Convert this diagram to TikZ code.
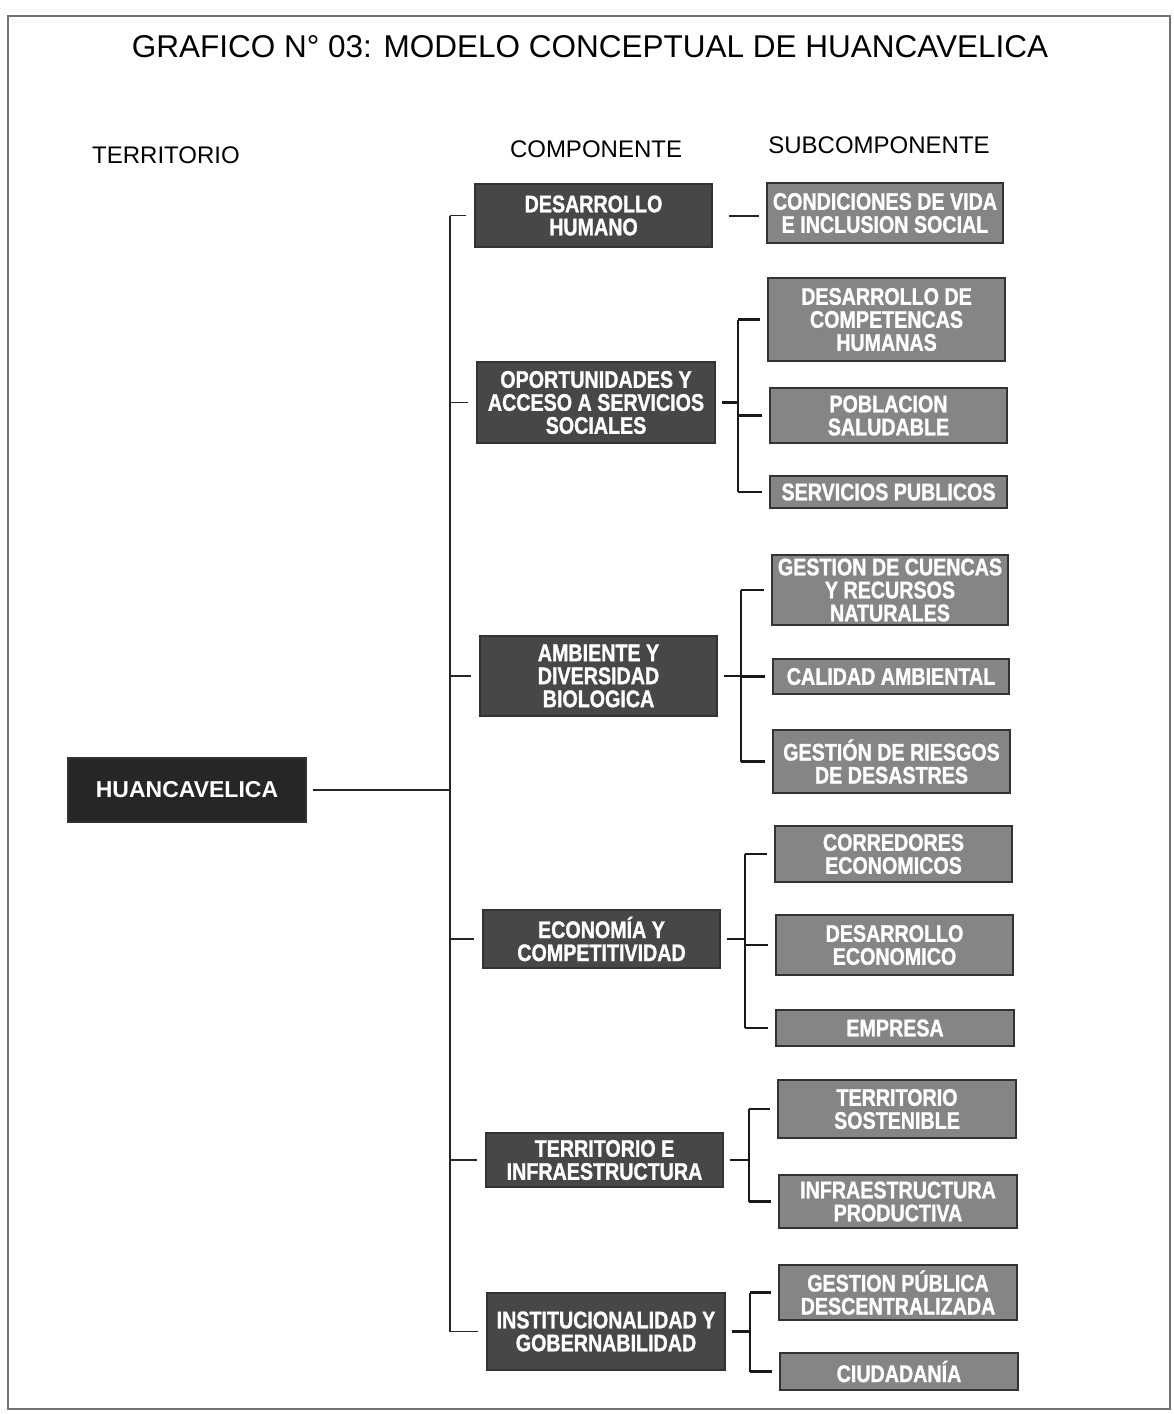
\documentclass[tikz,border=0pt]{standalone}
\usepackage{fontspec}
\setmainfont{Liberation Sans}
\newfontfamily\boxfont[FakeStretch=0.82,FakeBold=1.2]{Liberation Sans Bold}
\newfontfamily\rootfont{Liberation Sans Bold}
\begin{document}
\begin{tikzpicture}[x=1pt,y=-1pt,
  basebox/.style={draw=black!80,line width=1.2pt,text=white,align=center,inner sep=0pt,
    font=\boxfont\fontsize{24}{23}\selectfont},
  rootbox/.style={basebox,fill=black!85,font=\rootfont\fontsize{23}{26}\selectfont},
  compbox/.style={basebox,fill=black!72},
  subbox/.style={basebox,fill=black!48},
  hdr/.style={font=\fontsize{24}{28}\selectfont,anchor=base},
  trunk/.style={line width=1.6pt,black!85},
  brk/.style={line width=2.4pt,black!90}]
\useasboundingbox (0,0) rectangle (1174,1414);
\fill[white] (0,0) rectangle (1174,1414);
\draw[black!55,line width=1.2pt] (8,16) rectangle (1170,1409);

\node[font=\fontsize{31.5}{36}\selectfont,anchor=base] (title) at (590,57) {GRAFICO N° 03: MODELO CONCEPTUAL DE HUANCAVELICA};
\node[hdr] (hterr) at (166,163) {TERRITORIO};
\node[hdr] (hcomp) at (596,157) {COMPONENTE};
\node[hdr] (hsub) at (879,153) {SUBCOMPONENTE};

% root
\node[rootbox,minimum width=238pt,minimum height=64pt] (huan) at (187,790) {HUANCAVELICA};

% components
\node[compbox,minimum width=237pt,minimum height=63pt] (dh) at (593.5,215.5) {DESARROLLO\\HUMANO};
\node[compbox,minimum width=238pt,minimum height=81pt] (opo) at (596,402.5) {OPORTUNIDADES Y\\ACCESO A SERVICIOS\\SOCIALES};
\node[compbox,minimum width=237pt,minimum height=80pt] (amb) at (598.5,676) {AMBIENTE Y\\DIVERSIDAD\\BIOLOGICA};
\node[compbox,minimum width=237pt,minimum height=58pt] (eco) at (601.5,939) {ECONOMÍA Y\\COMPETITIVIDAD};
\node[compbox,minimum width=237pt,minimum height=54pt] (ter) at (604.5,1160) {TERRITORIO E\\INFRAESTRUCTURA};
\node[compbox,minimum width=238pt,minimum height=77pt] (ins) at (606,1331.5) {INSTITUCIONALIDAD Y\\GOBERNABILIDAD};

% subcomponents
\node[subbox,minimum width=236pt,minimum height=60pt] (cv) at (885,213) {CONDICIONES DE VIDA\\E INCLUSION SOCIAL};
\node[subbox,minimum width=237pt,minimum height=83pt] (dc) at (886.5,319.5) {DESARROLLO DE\\COMPETENCAS\\HUMANAS};
\node[subbox,minimum width=237pt,minimum height=55pt] (ps) at (888.5,415.5) {POBLACION\\SALUDABLE};
\node[subbox,minimum width=237pt,minimum height=32pt] (sp) at (888.5,492) {SERVICIOS PUBLICOS};
\node[subbox,minimum width=236pt,minimum height=70pt] (gc) at (890,590) {GESTION DE CUENCAS\\Y RECURSOS\\NATURALES};
\node[subbox,minimum width=236pt,minimum height=35pt] (ca) at (891,676.5) {CALIDAD AMBIENTAL};
\node[subbox,minimum width=237pt,minimum height=63pt] (gr) at (891.5,761.5) {GESTIÓN DE RIESGOS\\DE DESASTRES};
\node[subbox,minimum width=237pt,minimum height=56pt] (ce) at (893.5,854) {CORREDORES\\ECONOMICOS};
\node[subbox,minimum width=237pt,minimum height=60pt] (de) at (894.5,945) {DESARROLLO\\ECONOMICO};
\node[subbox,minimum width=238pt,minimum height=36pt] (em) at (895,1028) {EMPRESA};
\node[subbox,minimum width=238pt,minimum height=58pt] (ts) at (897,1109) {TERRITORIO\\SOSTENIBLE};
\node[subbox,minimum width=238pt,minimum height=53pt] (ip) at (898,1201.5) {INFRAESTRUCTURA\\PRODUCTIVA};
\node[subbox,minimum width=238pt,minimum height=55pt] (gp) at (898,1292.5) {GESTION PÚBLICA\\DESCENTRALIZADA};
\node[subbox,minimum width=238pt,minimum height=37pt] (ci) at (899,1371.5) {CIUDADANÍA};

% trunk
\coordinate (tk) at (450,0);
\draw[trunk] (tk |- dh.west) -- (tk |- ins.west);
\draw[trunk] ([xshift=6pt]huan.east) -- (tk |- huan.east);
\foreach \c in {dh,opo,amb,eco,ter,ins}
  \draw[trunk] (tk |- \c.west) -- ([xshift=-8pt]\c.west);

% desarrollo humano -> condiciones de vida
\draw[trunk,line width=2pt] ([xshift=16pt]dh.east) -- ([xshift=-7pt]dh.east -| cv.west);

% brackets
\foreach \c/\first/\last/\bx in {opo/dc/sp/738, amb/gc/gr/741, eco/ce/em/745, ter/ts/ip/749, ins/gp/ci/750}{
  \draw[brk] ([xshift=6pt]\c.east) -- (\bx,0 |- \c.east);
  \draw[brk] (\bx,0 |- \first.west) -- (\bx,0 |- \last.west);
}
\foreach \s/\bx in {dc/738,ps/738,sp/738,gc/741,ca/741,gr/741,ce/745,de/745,em/745,ts/749,ip/749,gp/750,ci/750}
  \draw[brk] (\bx,0 |- \s.west) -- ([xshift=-7pt]\s.west);
\end{tikzpicture}
\end{document}
